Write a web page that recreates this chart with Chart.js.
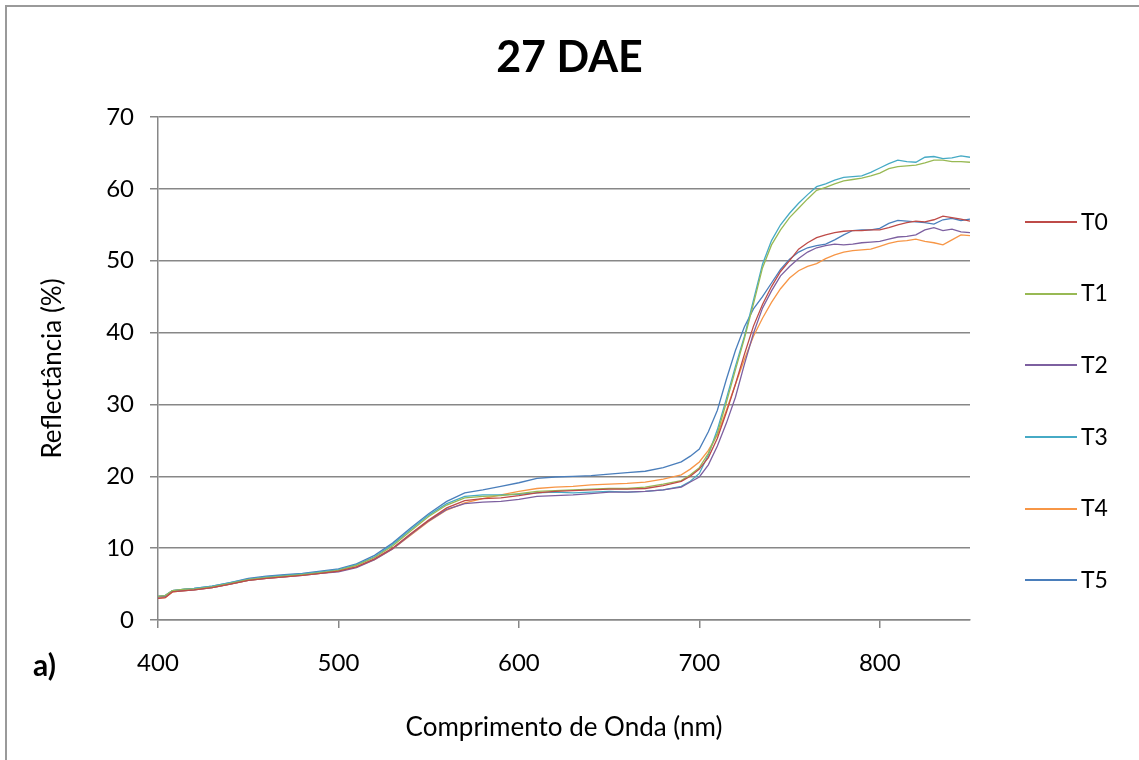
<!DOCTYPE html>
<html>
<head>
<meta charset="utf-8">
<script src="https://cdn.jsdelivr.net/npm/chart.js@4.4.1/dist/chart.umd.min.js"></script>
<style>
  html, body { margin: 0; padding: 0; background: #ffffff; }
  #wrap { position: relative; width: 1139px; height: 760px; overflow: hidden; background: #fff; }
  #frame { position: absolute; left: 5px; top: 5px; width: 1200px; height: 800px;
           border-top: 2px solid #9a9a9a; border-left: 2px solid #9a9a9a; }
  #chartBox { position: absolute; left: 0; top: 0; width: 1139px; height: 760px; }
  #title { position: absolute; left: 0; width: 1139px; top: 30px; text-align: center;
           font-family: Lato, sans-serif; font-weight: bold; font-size: 43px; color: #000; line-height: 1.2; }
  #panel { position: absolute; left: 33px; top: 646px; font-family: Lato, sans-serif;
           font-weight: bold; font-size: 30px; color: #000; line-height: 1.2; }
  .lg-line { position: absolute; left: 1025px; width: 52px; height: 2px; }
  .lg-text { position: absolute; left: 1081px; font-family: Lato, sans-serif; font-size: 23px;
             color: #000; line-height: 1.2; }
</style>
</head>
<body>
<div id="wrap">
  <div id="frame"></div>
  <div id="chartBox"><canvas id="c"></canvas></div>
  <div id="title">27 DAE</div>
  <div id="panel">a)</div>
  <div id="legend"></div>
</div>
<script>
// ---- data ----
const chartTitle = "27 DAE";
const xTitle = "Comprimento de Onda (nm)";
const yTitle = "Reflectância (%)";
const xTicks = [400, 500, 600, 700, 800];
const yTicks = [0, 10, 20, 30, 40, 50, 60, 70];

const wavelengths = [400,404,408,415,420,430,440,450,460,470,480,490,500,510,520,530,
  540,550,560,570,580,590,600,610,620,630,640,650,660,670,680,690,695,
  700,705,710,715,720,725,730,735,740,745,750,755,760,765,770,775,780,785,790,795,
  800,805,810,815,820,825,830,835,840,845,850];

const seriesNames = ["T0", "T1", "T2", "T3", "T4", "T5"];
const seriesColors = ["#BE4B48", "#98B954", "#7D60A0", "#46AAC5", "#F79646", "#4A7EBB"];

const T0 = [3.0,3.1,3.9,4.1,4.2,4.5,5.0,5.5,5.8,6.0,6.2,6.5,6.8,7.4,8.5,10.0,
  12.0,13.9,15.6,16.6,16.9,17.0,17.3,17.7,17.9,18.0,18.1,18.2,18.2,18.3,18.7,19.3,20.0,
  21.0,22.6,25.3,28.9,32.8,37.0,40.9,43.9,46.4,48.5,50.0,51.6,52.5,53.2,53.6,53.9,54.1,54.2,54.2,54.3,
  54.3,54.6,55.0,55.3,55.5,55.4,55.7,56.2,56.0,55.8,55.5];
const T1 = [3.3,3.4,4.1,4.3,4.3,4.6,5.1,5.6,5.9,6.1,6.3,6.6,6.9,7.6,8.7,10.3,
  12.4,14.4,16.0,17.0,17.2,17.3,17.6,17.9,18.0,18.1,18.2,18.3,18.3,18.5,18.9,19.4,20.2,
  21.2,23.2,26.0,30.3,34.8,39.2,44.0,49.0,52.2,54.3,56.0,57.3,58.6,59.8,60.2,60.7,61.1,61.3,61.5,61.8,
  62.2,62.8,63.1,63.2,63.3,63.6,64.0,64.0,63.8,63.8,63.7];
const T2 = [3.2,3.3,4.0,4.1,4.2,4.5,5.0,5.5,5.8,6.0,6.2,6.5,6.7,7.3,8.4,9.9,
  11.9,13.8,15.4,16.2,16.4,16.5,16.8,17.2,17.3,17.4,17.6,17.8,17.8,17.9,18.1,18.5,19.2,
  19.9,21.6,24.2,27.4,31.0,35.6,39.9,43.4,45.8,47.9,49.2,50.3,51.2,51.8,52.1,52.3,52.2,52.3,52.5,52.6,
  52.7,53.0,53.3,53.4,53.6,54.3,54.6,54.2,54.4,54.0,53.9];
const T3 = [3.3,3.4,4.1,4.3,4.4,4.7,5.2,5.7,6.0,6.2,6.4,6.7,7.0,7.7,8.8,10.5,
  12.6,14.6,16.2,17.2,17.4,17.4,17.5,17.7,17.8,17.7,17.8,17.9,17.8,17.9,18.1,18.6,19.3,
  20.4,23.0,26.5,30.8,35.3,39.5,44.5,49.5,52.8,55.0,56.6,58.0,59.2,60.3,60.7,61.2,61.6,61.7,61.8,62.3,
  62.9,63.5,64.0,63.8,63.7,64.4,64.5,64.2,64.3,64.6,64.4];
const T4 = [3.0,3.1,3.9,4.1,4.2,4.5,5.0,5.5,5.8,6.0,6.3,6.5,6.8,7.4,8.4,9.9,
  11.8,13.7,15.3,16.3,16.9,17.4,17.9,18.3,18.5,18.6,18.8,18.9,19.0,19.2,19.6,20.2,21.0,
  22.0,23.6,25.8,29.2,32.8,36.3,39.5,42.0,44.2,46.1,47.6,48.6,49.2,49.6,50.3,50.8,51.2,51.4,51.5,51.6,
  52.0,52.4,52.7,52.8,53.0,52.7,52.5,52.2,52.9,53.6,53.5];
const T5 = [3.3,3.4,4.1,4.3,4.4,4.7,5.2,5.8,6.1,6.3,6.5,6.8,7.1,7.8,9.0,10.7,
  12.8,14.8,16.5,17.7,18.1,18.6,19.1,19.7,19.9,20.0,20.1,20.3,20.5,20.7,21.2,22.0,22.8,
  23.8,26.2,29.2,33.5,37.5,40.8,43.3,45.0,46.9,48.8,50.2,51.2,51.8,52.1,52.3,52.9,53.6,54.2,54.3,54.3,
  54.5,55.2,55.6,55.5,55.4,55.3,55.1,55.7,55.9,55.6,55.8];
const seriesValues = [T0, T1, T2, T3, T4, T5];

// ---- build chart ----
const FONT = "Lato, 'Open Sans', sans-serif";
const GRID = "#878787";

const datasets = seriesNames.map((name, i) => ({
  label: name,
  data: wavelengths.map((w, j) => ({ x: w, y: seriesValues[i][j] })),
  borderColor: seriesColors[i],
  backgroundColor: seriesColors[i],
  borderWidth: 1.3,
  pointRadius: 0,
  tension: 0,
  fill: false
}));

new Chart(document.getElementById("c"), {
  type: "line",
  data: { datasets },
  options: {
    responsive: true,
    maintainAspectRatio: false,
    animation: false,
    devicePixelRatio: 1,
    layout: { padding: { left: 0, top: 117, right: 169, bottom: 0 } },
    plugins: { legend: { display: false }, title: { display: false }, tooltip: { enabled: false } },
    scales: {
      x: {
        type: "linear", position: "bottom", min: 400, max: 850,
        afterBuildTicks: (s) => { s.ticks = xTicks.map(v => ({ value: v })); },
        afterFit: (s) => { s.height = 140; },
        ticks: { font: { family: FONT, size: 24 }, color: "#000", padding: 21, maxRotation: 0 },
        grid: { drawOnChartArea: false, drawTicks: true, tickLength: 8, color: GRID, lineWidth: 1.5 },
        border: { display: true, color: GRID, width: 1.5 },
        title: { display: true, text: xTitle, font: { family: FONT, size: 26 }, color: "#000",
                 padding: { top: 0, bottom: 17 } }
      },
      y: {
        type: "linear", min: 0, max: 70,
        afterBuildTicks: (s) => { s.ticks = yTicks.map(v => ({ value: v })); },
        afterFit: (s) => { s.width = 158; },
        ticks: { font: { family: FONT, size: 24 }, color: "#000", padding: 16 },
        grid: { drawOnChartArea: true, drawTicks: true, tickLength: 8, color: GRID, lineWidth: 1.5 },
        border: { display: true, color: GRID, width: 1.5 },
        title: { display: true, text: yTitle, font: { family: FONT, size: 26 }, color: "#000",
                 padding: { top: 37, bottom: 0 } }
      }
    }
  }
});

// ---- legend (right side) ----
const legendY = [222, 293.5, 365, 437, 508.5, 580];
const lg = document.getElementById("legend");
seriesNames.forEach((name, i) => {
  const line = document.createElement("div");
  line.className = "lg-line";
  line.style.top = (legendY[i] - 1) + "px";
  line.style.background = seriesColors[i];
  lg.appendChild(line);
  const t = document.createElement("div");
  t.className = "lg-text";
  t.style.top = (legendY[i] - 14.5) + "px";
  t.textContent = name;
  lg.appendChild(t);
});
</script>
</body>
</html>
